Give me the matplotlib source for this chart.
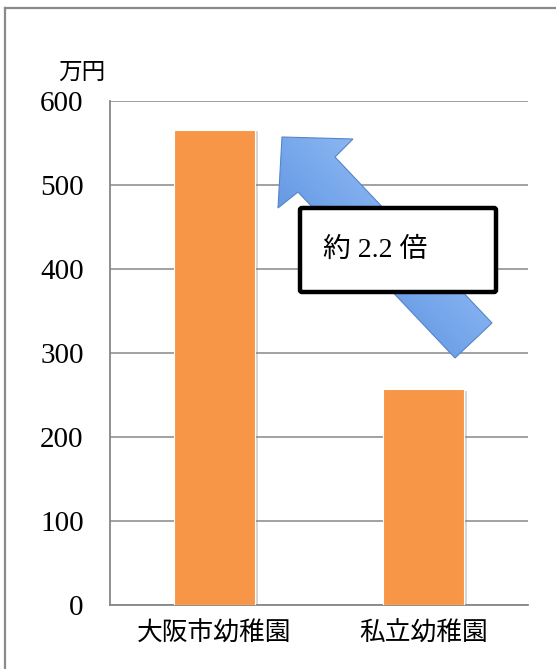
import numpy as np
import matplotlib
matplotlib.use('Agg')
import matplotlib.pyplot as plt
from matplotlib.patches import Polygon, FancyBboxPatch
from matplotlib.colors import LinearSegmentedColormap
import matplotlib.patheffects as pe

plt.rcParams['font.family'] = ['Liberation Serif', 'Noto Sans CJK JP']

# data
categories = ['大阪市幼稚園', '私立幼稚園']
values = [566, 257]
yticks = [0, 100, 200, 300, 400, 500, 600]
unit_label = '万円'
ratio_label = '約 2.2 倍'

W, H = 556, 669
fig = plt.figure(figsize=(W / 100, H / 100), dpi=100)

# plot area in pixels: left 110, right 528, top 101, bottom 605
ax = fig.add_axes([110 / W, (H - 605) / H, 418 / W, 504 / H])
x = np.arange(len(categories))
bars = ax.bar(x, values, width=0.39, color='#F79646', edgecolor='white',
              linewidth=0.8, zorder=3)
for b in bars:
    b.set_path_effects([pe.SimplePatchShadow(offset=(2, -1), shadow_rgbFace='#888888', alpha=0.35),
                        pe.Normal()])

ax.set_xlim(-0.5, 1.5)
ax.set_ylim(0, 600)
ax.set_yticks(yticks)
ax.set_xticks(x)
ax.set_xticklabels(categories, fontsize=18.5)
ax.tick_params(axis='y', length=0, pad=19, labelsize=21)
ax.tick_params(axis='x', length=0, pad=12)
ax.yaxis.grid(True, color='#878787', linewidth=1.1, zorder=0)
ax.set_axisbelow(True)
for s in ['top', 'right']:
    ax.spines[s].set_visible(False)
for s in ['left', 'bottom']:
    ax.spines[s].set_color('#878787')
    ax.spines[s].set_linewidth(1.3)

fig.text(82 / W, 1 - 73 / H, unit_label, fontsize=17, ha='center', va='center')

# overlay in pixel coords for the frame, arrow and text box
ov = fig.add_axes([0, 0, 1, 1], zorder=5)
ov.set_xlim(0, W)
ov.set_ylim(H, 0)
ov.axis('off')
ov.patch.set_alpha(0)

# outer frame (only top and left edges fall inside the picture)
ov.plot([5, W], [8, 8], color='#8a8a8a', lw=1.6)
ov.plot([5, 5], [8, H], color='#8a8a8a', lw=1.6)

# block arrow
arrow_pts = [(282, 137), (353, 139), (335, 157), (492, 323),
             (455, 358), (298, 192), (278, 208)]
arrow = Polygon(arrow_pts, closed=True, facecolor='none', edgecolor='#5585c8', lw=0.8, zorder=6)
ov.add_patch(arrow)
gx, gy = np.meshgrid(np.linspace(270, 500, 200), np.linspace(130, 365, 200))
t = gx * 166 - gy * 157
t = (t - t.min()) / (t.max() - t.min())
cmap = LinearSegmentedColormap.from_list('blu', ['#3f78d0', '#78a8ec', '#b5d3fc'])
im = ov.imshow(t, extent=(270, 500, 365, 130), cmap=cmap, zorder=5, aspect='auto')
im.set_clip_path(arrow)

# text box
box = FancyBboxPatch((300, 208), 196, 84, boxstyle='round,pad=0,rounding_size=2',
                     facecolor='white', edgecolor='black', lw=3.2, zorder=7)
ov.add_patch(box)
ov.text(323, 250, ratio_label, fontsize=20, ha='left', va='center', zorder=8)

fig.savefig('out.png', dpi=100)
